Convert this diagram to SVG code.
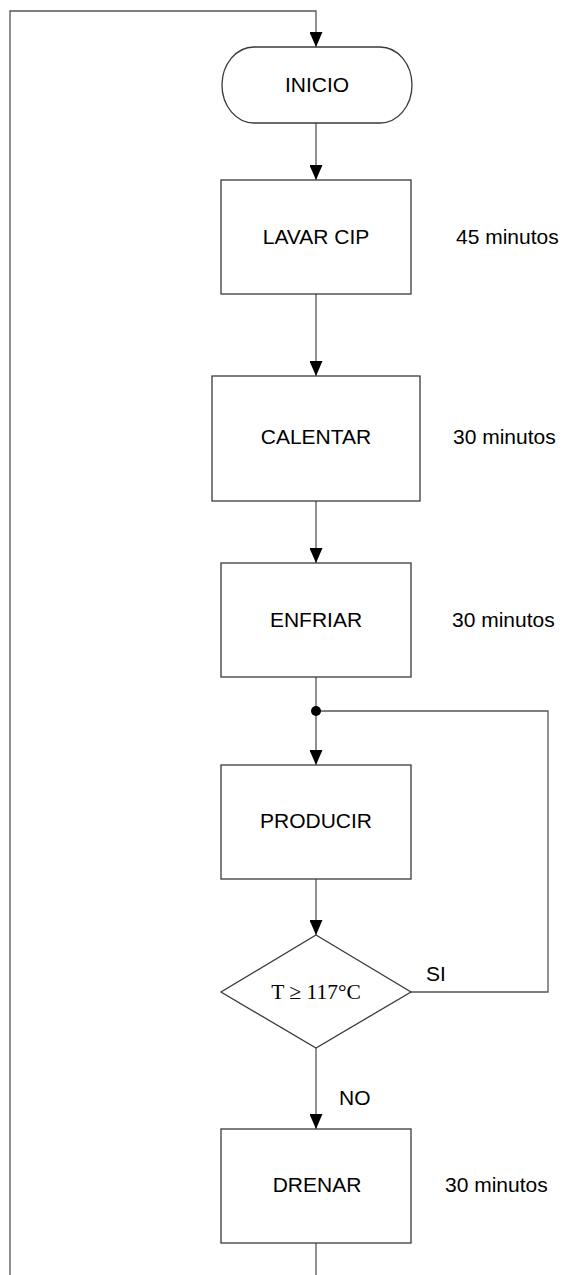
<svg xmlns="http://www.w3.org/2000/svg" width="563" height="1275" viewBox="0 0 563 1275">
<defs>
<style>
.shape{fill:#fff;stroke:#3a3a3a;stroke-width:1.3}
.conn{fill:none;stroke:#555;stroke-width:1.3}
.t{font-family:"Liberation Sans",Arial,sans-serif;font-size:21px;fill:#000}
.c{text-anchor:middle}
.serif{font-family:"Liberation Serif","Times New Roman",serif;font-size:21.5px;fill:#000;text-anchor:middle}
</style>
<marker id="ah" viewBox="0 0 15 13" refX="15" refY="6.5" markerWidth="15" markerHeight="13" orient="auto" markerUnits="userSpaceOnUse">
<path d="M0,0 L15,6.5 L0,13 Z" fill="#000"/>
</marker>
</defs>
<g id="connectors">
<path class="conn" d="M10,1275 V11 H316 V47" marker-end="url(#ah)"/>
<path class="conn" d="M316,1243 V1275"/>
<path class="conn" d="M316,123 V180" marker-end="url(#ah)"/>
<path class="conn" d="M316,294 V376" marker-end="url(#ah)"/>
<path class="conn" d="M316,501 V563" marker-end="url(#ah)"/>
<path class="conn" d="M316,677 V765" marker-end="url(#ah)"/>
<path class="conn" d="M316,879 V935" marker-end="url(#ah)"/>
<path class="conn" d="M316,1048 V1129" marker-end="url(#ah)"/>
<path class="conn" d="M411,992 H548 V711 H316"/>
<circle cx="316" cy="711" r="5" fill="#000"/>
<text class="t" x="426" y="981">SI</text>
<text class="t" x="339" y="1105">NO</text>
</g>
<g id="inicio">
<rect class="shape" x="222" y="47" width="190" height="76" rx="32" ry="38"/>
<text class="t c" x="317" y="92">INICIO</text>
</g>
<g id="lavar">
<rect class="shape" x="221" y="180" width="190" height="114"/>
<text class="t c" x="316" y="244">LAVAR CIP</text>
<text class="t" x="456" y="244">45 minutos</text>
</g>
<g id="calentar">
<rect class="shape" x="212" y="376" width="208" height="125"/>
<text class="t c" x="316" y="444">CALENTAR</text>
<text class="t" x="453" y="444">30 minutos</text>
</g>
<g id="enfriar">
<rect class="shape" x="221" y="563" width="190" height="114"/>
<text class="t c" x="316" y="627">ENFRIAR</text>
<text class="t" x="452" y="627">30 minutos</text>
</g>
<g id="producir">
<rect class="shape" x="221" y="765" width="190" height="114"/>
<text class="t c" x="316" y="828">PRODUCIR</text>
</g>
<g id="decision">
<polygon class="shape" points="316,935 411,992 316,1048 221,992"/>
<text class="serif" x="316" y="999">T ≥ 117°C</text>
</g>
<g id="drenar">
<rect class="shape" x="221" y="1129" width="190" height="114"/>
<text class="t c" x="317" y="1192">DRENAR</text>
<text class="t" x="445" y="1192">30 minutos</text>
</g>
</svg>
